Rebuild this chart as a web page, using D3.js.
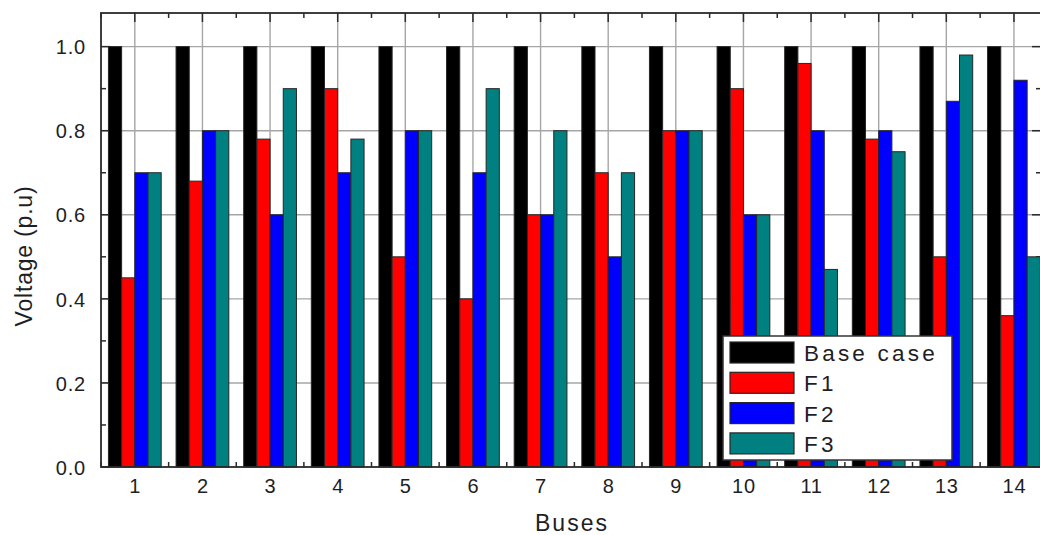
<!DOCTYPE html>
<html>
<head>
<meta charset="utf-8">
<script src="https://cdn.jsdelivr.net/npm/d3@7/dist/d3.min.js"></script>
<style>
  html, body { margin: 0; padding: 0; background: #fff; }
  svg { display: block; }
  text { font-family: "Liberation Sans", Arial, sans-serif; fill: #1e1e24; }
</style>
</head>
<body>
<svg id="chart" width="1040" height="535"></svg>
<script>
// Bus voltages (p.u) for the base case and three fault scenarios
const buses = [1, 2, 3, 4, 5, 6, 7, 8, 9, 10, 11, 12, 13, 14];
const baseCase = [1.0, 1.0, 1.0, 1.0, 1.0, 1.0, 1.0, 1.0, 1.0, 1.0, 1.0, 1.0, 1.0, 1.0];
const f1 = [0.45, 0.68, 0.78, 0.90, 0.50, 0.40, 0.60, 0.70, 0.80, 0.90, 0.96, 0.78, 0.50, 0.36];
const f2 = [0.70, 0.80, 0.60, 0.70, 0.80, 0.70, 0.60, 0.50, 0.80, 0.60, 0.80, 0.80, 0.87, 0.92];
const f3 = [0.70, 0.80, 0.90, 0.78, 0.80, 0.90, 0.80, 0.70, 0.80, 0.60, 0.47, 0.75, 0.98, 0.50];
const seriesNames = ["Base case", "F1", "F2", "F3"];
const seriesColors = ["#000000", "#ff0000", "#0000ff", "#008080"];
const yTickValues = [0.0, 0.2, 0.4, 0.6, 0.8, 1.0];
const yMinorValues = [0.1, 0.3, 0.5, 0.7, 0.9];

const series = [baseCase, f1, f2, f3];

const svg = d3.select("#chart");
const plotL = 101, plotR = 1041, plotT = 13, plotB = 467;

const x = d3.scaleLinear().domain([0.5, 14.4]).range([plotL, plotR]);
const y = d3.scaleLinear().domain([0, 1.08]).range([plotB, plotT]);

const barW = x(0.195) - x(0);
const minorX = buses.slice(0, -1).map(b => b + 0.5).concat([0.5]);

const gridColor = "#a6a6a6";
const axisColor = "#2a2a2a";

// grid lines
const grid = svg.append("g");
grid.selectAll("line.h").data(yTickValues.filter(v => v > 0)).join("line")
  .attr("class", "h")
  .attr("x1", plotL).attr("x2", plotR)
  .attr("y1", d => y(d)).attr("y2", d => y(d))
  .attr("stroke", gridColor).attr("stroke-width", 1.4);
grid.selectAll("line.v").data(buses).join("line")
  .attr("class", "v")
  .attr("x1", d => x(d)).attr("x2", d => x(d))
  .attr("y1", plotT).attr("y2", plotB)
  .attr("stroke", gridColor).attr("stroke-width", 1.4);

// tick marks pointing into the plot
const ticks = svg.append("g").attr("stroke", axisColor).attr("stroke-width", 1.5);
const major = 9, minor = 5;
yTickValues.forEach(v => {
  ticks.append("line").attr("x1", plotL).attr("x2", plotL + major).attr("y1", y(v)).attr("y2", y(v));
  ticks.append("line").attr("x1", plotR).attr("x2", plotR - major).attr("y1", y(v)).attr("y2", y(v));
});
yMinorValues.forEach(v => {
  ticks.append("line").attr("x1", plotL).attr("x2", plotL + minor).attr("y1", y(v)).attr("y2", y(v));
  ticks.append("line").attr("x1", plotR).attr("x2", plotR - minor).attr("y1", y(v)).attr("y2", y(v));
});
buses.forEach(b => {
  ticks.append("line").attr("x1", x(b)).attr("x2", x(b)).attr("y1", plotT).attr("y2", plotT + major);
  ticks.append("line").attr("x1", x(b)).attr("x2", x(b)).attr("y1", plotB).attr("y2", plotB - major);
});
minorX.forEach(b => {
  ticks.append("line").attr("x1", x(b)).attr("x2", x(b)).attr("y1", plotT).attr("y2", plotT + minor);
  ticks.append("line").attr("x1", x(b)).attr("x2", x(b)).attr("y1", plotB).attr("y2", plotB - minor);
});

// bars: four per bus, grouped around the bus position
const bars = svg.append("g");
series.forEach((vals, si) => {
  bars.selectAll(null).data(vals.map((v, i) => ({ bus: buses[i], v }))).join("rect")
    .attr("x", d => x(d.bus) + (si - 2) * barW)
    .attr("y", d => y(d.v))
    .attr("width", barW)
    .attr("height", d => y(0) - y(d.v))
    .attr("fill", seriesColors[si])
    .attr("stroke", "#262626")
    .attr("stroke-width", 1);
});

// frame
svg.append("rect")
  .attr("x", plotL).attr("y", plotT)
  .attr("width", plotR - plotL).attr("height", plotB - plotT)
  .attr("fill", "none").attr("stroke", axisColor).attr("stroke-width", 1.8);

// tick labels via d3 axes (tick lines hidden, labels only)
const yAxis = d3.axisLeft(y).tickValues(yTickValues).tickFormat(d3.format(".1f")).tickSize(0).tickPadding(15);
const gy = svg.append("g").attr("transform", `translate(${plotL},0)`).call(yAxis);
gy.select(".domain").remove();
gy.selectAll("text").style("font-size", "20px").style("letter-spacing", "0.8px")
  .attr("dy", "0.36em").style("fill", "#1e1e24");

const xAxis = d3.axisBottom(x).tickValues(buses).tickFormat(d3.format("d")).tickSize(0).tickPadding(12);
const gx = svg.append("g").attr("transform", `translate(0,${plotB})`).call(xAxis);
gx.select(".domain").remove();
gx.selectAll("text").style("font-size", "20px").style("letter-spacing", "0.8px").style("fill", "#1e1e24");

// axis titles
svg.append("text")
  .attr("x", (plotL + plotR) / 2 + 1).attr("y", 531)
  .attr("text-anchor", "middle")
  .style("font-size", "23px").style("letter-spacing", "2px")
  .text("Buses");

svg.append("text")
  .attr("transform", "translate(32,256) rotate(-90)")
  .attr("text-anchor", "middle")
  .style("font-size", "23px").style("letter-spacing", "0.8px")
  .text("Voltage (p.u)");

// legend
const legend = svg.append("g");
legend.append("rect")
  .attr("x", 723).attr("y", 336).attr("width", 229).attr("height", 124)
  .attr("fill", "#fff").attr("stroke", "#333").attr("stroke-width", 1.5);
seriesNames.forEach((name, i) => {
  const ry = 342 + i * 30.3;
  legend.append("rect")
    .attr("x", 730).attr("y", ry).attr("width", 64).attr("height", 21)
    .attr("fill", seriesColors[i]).attr("stroke", "#262626").attr("stroke-width", 1.2);
  legend.append("text")
    .attr("x", 804).attr("y", ry + 19)
    .style("font-size", "22.5px").style("letter-spacing", "3.2px")
    .text(name);
});
</script>
</body>
</html>
